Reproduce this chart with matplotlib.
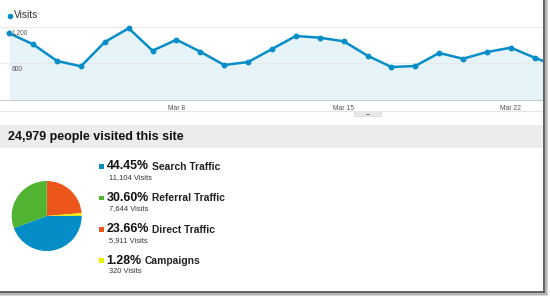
import matplotlib
matplotlib.use('Agg')
import matplotlib.pyplot as plt
import numpy as np
from matplotlib.patches import Rectangle
from matplotlib.lines import Line2D

plt.rcParams['font.family'] = ['Liberation Sans', 'DejaVu Sans']

# daily visits, Mar 1 .. Mar 24 (last one is cut off by the frame)
days = ['Mar %d' % d for d in range(1, 25)]
visits = [1092, 911, 638, 551, 949, 1174, 807, 987, 790, 572, 621, 834,
          1048, 1020, 961, 725, 539, 556, 769, 675, 785, 856, 692, 540]
tick_days = ['Mar 8', 'Mar 15', 'Mar 22']
y_ticks = [600, 1200]

total_visits = '24,979'
sources = ['Search Traffic', 'Referral Traffic', 'Direct Traffic', 'Campaigns']
shares = [44.45, 30.60, 23.66, 1.28]
source_visits = ['11,104', '7,644', '5,911', '320']
colors = ['#058dc7', '#50b432', '#ed561b', '#edef00']

W, H = 550, 297
fig = plt.figure(figsize=(W / 100, H / 100), dpi=100)
fig.patch.set_facecolor('white')


def box(x0, y0, x1, y1):
    # pixel box (top-left origin) -> figure fraction rect
    return [x0 / W, 1 - y1 / H, (x1 - x0) / W, (y1 - y0) / H]


def fx(x):
    return x / W


def fy(y):
    return 1 - y / H


# ---- line chart ----
ax = fig.add_axes(box(0, 20, 543, 99.9))
x = np.arange(len(visits))
step = 23.88
ax.set_xlim(-9.3 / step, (543 - 9.3) / step)
ax.set_ylim(0, 1200 * (99.9 - 20) / (99.9 - 26.7))
ax.fill_between(x, visits, 0, color='#e6f3f9', lw=0)
ax.plot(x, visits, color='#058dc7', lw=1.8, marker='o', ms=3.2, zorder=3)
for v in y_ticks:
    ax.axhline(v, color='#e8e8e8', lw=0.6, zorder=1)
    ax.text(2.0 / step, v - 40, '{:,}'.format(v), fontsize=4.8,
            color='#555555', ha='left', va='top', zorder=5)
for s in ['top', 'right', 'left']:
    ax.spines[s].set_visible(False)
ax.spines['bottom'].set_color('#cccccc')
ax.spines['bottom'].set_linewidth(0.8)
ax.set_yticks([])
ax.set_xticks([days.index(d) for d in tick_days])
ax.set_xticklabels(tick_days, fontsize=4.9, color='#555555')
ax.tick_params(axis='x', length=0, pad=3.5)

# "Visits" legend
fig.add_artist(Line2D([fx(9.8)], [fy(15.8)], marker='o', ms=3.0, lw=0,
                      color='#058dc7'))
fig.text(fx(13.5), fy(15.5), 'Visits', color='#333333', fontsize=7.3,
         ha='left', va='center')

# separator line + small tab under the chart
fig.add_artist(Line2D([0, fx(543)], [fy(111), fy(111)], color='#e4e4e4',
                      lw=0.8))
fig.add_artist(Rectangle((fx(354), fy(116)), fx(381) - fx(354),
                         fy(111) - fy(116), facecolor='#e9e9e9',
                         edgecolor='#d0d0d0', lw=0.4))
fig.add_artist(Line2D([fx(366), fx(369)], [fy(113.5), fy(113.5)],
                      color='#666666', lw=0.6))

# ---- header band ----
fig.add_artist(Rectangle((0, fy(148)), fx(543), fy(125) - fy(148),
                         facecolor='#ececec', edgecolor='none'))
fig.text(fx(7.5), fy(137), total_visits + ' people visited this site',
         fontsize=9, fontweight='bold', color='#111111', ha='left',
         va='center')

# ---- pie ----
pax = fig.add_axes(box(11.7, 181, 81.7, 251))
order = [2, 3, 0, 1]  # clockwise from top: direct, campaigns, search, referral
pax.pie([shares[i] for i in order], colors=[colors[i] for i in order],
        startangle=90, counterclock=False, radius=1,
        wedgeprops=dict(linewidth=0))
pax.set_xlim(-1, 1)
pax.set_ylim(-1, 1)
pax.set_aspect('equal')
pax.axis('off')

# ---- legend ----
row_y = [166.5, 197.8, 229.2, 260.6]
for i, name in enumerate(sources):
    y = row_y[i]
    fig.add_artist(Rectangle((fx(99), fy(y + 2.3)), fx(4.6), fy(0) - fy(4.6),
                             facecolor=colors[i], edgecolor='none'))
    t = fig.text(fx(106.5), fy(y), '%.2f%%' % shares[i], fontsize=8.9,
                 fontweight='bold', color='#111111', ha='left', va='center')
    fig.canvas.draw()
    bb = t.get_window_extent()
    fig.text((bb.x1 + 3) / W, fy(y + 0.4), name, fontsize=7.4,
             fontweight='bold', color='#222222', ha='left', va='center')
    fig.text(fx(109), fy(y + 11.2), source_visits[i] + ' Visits',
             fontsize=5.4, color='#333333', ha='left', va='center')

# ---- frame with shadow (right and bottom) ----
for off, c, lw in [(3.0, '#d8d8d8', 1.5), (1.5, '#aaaaaa', 1.2),
                   (0, '#555555', 1.3)]:
    fig.add_artist(Line2D([fx(544 + off), fx(544 + off)],
                          [fy(292 + off), 1], color=c, lw=lw))
    fig.add_artist(Line2D([0, fx(544 + off)],
                          [fy(292 + off), fy(292 + off)], color=c, lw=lw))

fig.savefig('out.png', dpi=100, facecolor='white')
